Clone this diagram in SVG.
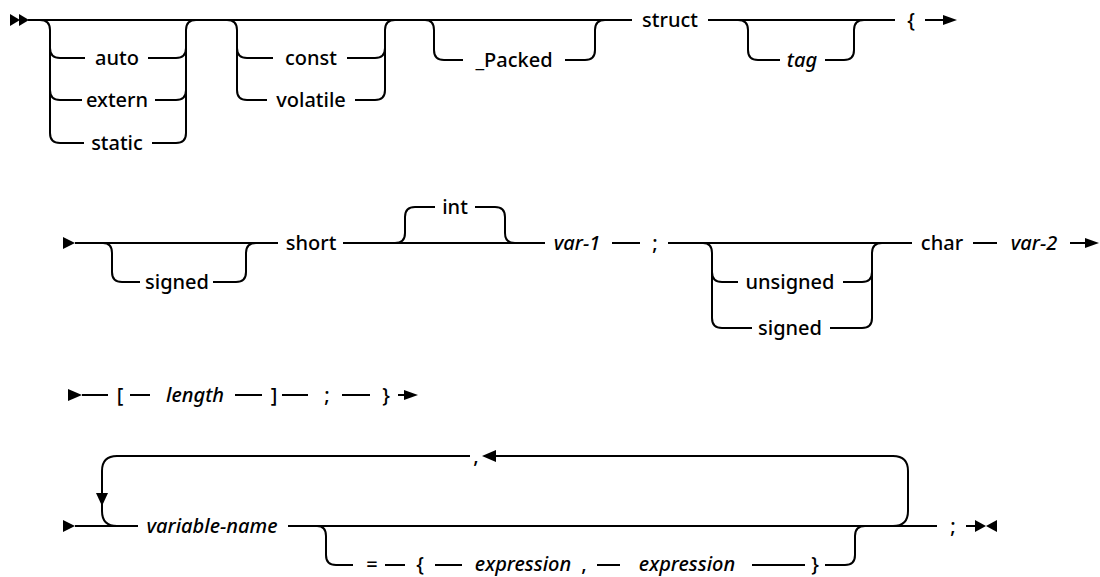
<svg xmlns="http://www.w3.org/2000/svg" width="1100" height="577" viewBox="0 0 1100 577">
<style>
.l{fill:none;stroke:#000;stroke-width:2}
.a{fill:#000;stroke:none}
.t{font-family:"Noto Sans","Liberation Sans",sans-serif;font-size:20px;font-weight:500;text-anchor:middle;fill:#000}
.i{font-style:italic}
</style>
<rect width="1100" height="577" fill="#fff"/>
<g id="connectors">
<path class="l" d="M28,20 L632,20 M708,20 L895,20 M925,20 L945,20"/>
<path class="l" d="M40,20 Q50,20 50,30 L50,133 Q50,143 60,143 L84,143 M50,48 Q50,58 60,58 L85,58 M50,90 Q50,100 60,100 L82,100"/>
<path class="l" d="M148,58 L176,58 Q186,58 186,48 M155,100 L176,100 Q186,100 186,90 M152,143 L176,143 Q186,143 186,133 L186,30 Q186,20 196,20"/>
<path class="l" d="M227,20 Q237,20 237,30 L237,90 Q237,100 247,100 L267,100 M237,48 Q237,58 247,58 L273,58"/>
<path class="l" d="M347,58 L375,58 Q385,58 385,48 M355,100 L375,100 Q385,100 385,90 L385,30 Q385,20 395,20"/>
<path class="l" d="M425,20 Q434,20 434,30 L434,50 Q434,60 444,60 L463,60 M565,60 L585,60 Q595,60 595,50 L595,30 Q595,20 605,20"/>
<path class="l" d="M738,20 Q748,20 748,30 L748,50 Q748,60 758,60 L780,60 M825,60 L844,60 Q854,60 854,50 L854,30 Q854,20 864,20"/>
<path class="l" d="M75,243 L278,243 M343,243 L545,243 M612,243 L640,243 M668,243 L912,243 M973,243 L997,243 M1070,243 L1087,243"/>
<path class="l" d="M103,243 Q112,243 112,253 L112,272 Q112,282 122,282 L140,282 M213,282 L236,282 Q246,282 246,272 L246,253 Q246,243 256,243"/>
<path class="l" d="M395,243 Q405,243 405,233 L405,217 Q405,207 415,207 L435,207 M475,207 L495,207 Q505,207 505,217 L505,233 Q505,243 515,243"/>
<path class="l" d="M703,243 Q712,243 712,253 L712,318 Q712,328 722,328 L752,328 M712,272 Q712,282 722,282 L738,282"/>
<path class="l" d="M843,282 L862,282 Q872,282 872,272 M830,328 L862,328 Q872,328 872,318 L872,253 Q872,243 882,243"/>
<path class="l" d="M82,395 L108,395 M130,395 L150,395 M235,395 L262,395 M282,395 L308,395 M342,395 L370,395 M398,395 L406,395"/>
<path class="l" d="M75,526 L138,526 M288,526 L937,526 M966,526 L976,526"/>
<path class="l" d="M470,456 L117,456 Q102,456 102,471 L102,511 Q102,526 117,526"/>
<path class="l" d="M496,456 L893,456 Q908,456 908,471 L908,511 Q908,526 893,526"/>
<path class="l" d="M317,526 Q326,526 326,536 L326,555 Q326,565 336,565 L353,565 M385,565 L405,565 M435,565 L462,565 M597,565 L620,565 M752,565 L805,565 M825,565 L845,565 Q855,565 855,555 L855,536 Q855,526 865,526"/>
<polygon class="a" points="10,14 20,20 10,26"/>
<polygon class="a" points="19,14 29,20 19,26"/>
<polygon class="a" points="943,15 957,20 943,25"/>
<polygon class="a" points="63,237 75,243 63,249"/>
<polygon class="a" points="1085,238 1099,243 1085,248"/>
<polygon class="a" points="68,389 82,395 68,401"/>
<polygon class="a" points="404,390 418,395 404,400"/>
<polygon class="a" points="63,520 75,526 63,532"/>
<polygon class="a" points="96,493 108,493 102,506"/>
<polygon class="a" points="496,450 482,456 496,462"/>
<polygon class="a" points="975,520 986,526 975,532"/>
<polygon class="a" points="997,520 986,526 997,532"/>
</g>
<g id="n-auto"><text class="t" x="117" y="65">auto</text></g>
<g id="n-extern"><text class="t" x="117" y="107">extern</text></g>
<g id="n-static"><text class="t" x="117" y="150">static</text></g>
<g id="n-const"><text class="t" x="311" y="65">const</text></g>
<g id="n-volatile"><text class="t" x="311" y="107">volatile</text></g>
<g id="n-packed"><text class="t" x="514" y="67">_Packed</text></g>
<g id="n-struct"><text class="t" x="670" y="27">struct</text></g>
<g id="n-tag"><text class="t i" x="802" y="67">tag</text></g>
<g id="n-lbrace1"><text class="t" x="911" y="27">{</text></g>
<g id="n-signed1"><text class="t" x="177" y="289">signed</text></g>
<g id="n-short"><text class="t" x="311" y="250">short</text></g>
<g id="n-int"><text class="t" x="455" y="214">int</text></g>
<g id="n-var1"><text class="t i" x="577" y="250">var-1</text></g>
<g id="n-semi1"><text class="t" x="655" y="250">;</text></g>
<g id="n-unsigned"><text class="t" x="790" y="289">unsigned</text></g>
<g id="n-signed2"><text class="t" x="790" y="335">signed</text></g>
<g id="n-char"><text class="t" x="942" y="250">char</text></g>
<g id="n-var2"><text class="t i" x="1034" y="250">var-2</text></g>
<g id="n-lbracket"><text class="t" x="120" y="402">[</text></g>
<g id="n-length"><text class="t i" x="195" y="402">length</text></g>
<g id="n-rbracket"><text class="t" x="274" y="402">]</text></g>
<g id="n-semi2"><text class="t" x="327" y="402">;</text></g>
<g id="n-rbrace1"><text class="t" x="386" y="402">}</text></g>
<g id="n-comma1"><text class="t" x="476" y="463">,</text></g>
<g id="n-varname"><text class="t i" x="212" y="533">variable-name</text></g>
<g id="n-eq"><text class="t" x="372" y="571">=</text></g>
<g id="n-lbrace2"><text class="t" x="420" y="571">{</text></g>
<g id="n-expr1"><text class="t i" x="523" y="571">expression</text></g>
<g id="n-comma2"><text class="t" x="584" y="571">,</text></g>
<g id="n-expr2"><text class="t i" x="687" y="571">expression</text></g>
<g id="n-rbrace2"><text class="t" x="815" y="571">}</text></g>
<g id="n-semi3"><text class="t" x="953" y="533">;</text></g>
</svg>
